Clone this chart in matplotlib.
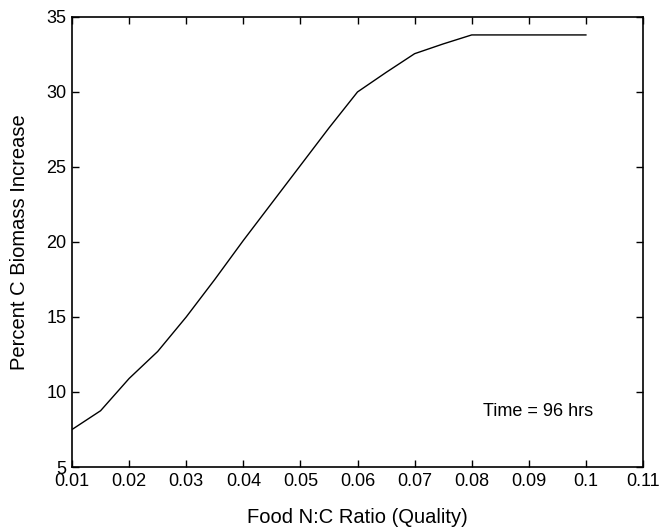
import matplotlib
matplotlib.use("Agg")
import matplotlib.pyplot as plt

nc_ratio = [0.01, 0.015, 0.02, 0.025, 0.03, 0.035, 0.04, 0.045, 0.05, 0.055,
            0.06, 0.065, 0.07, 0.075, 0.08, 0.09, 0.1]
biomass_increase = [7.5, 8.75, 10.9, 12.7, 15.0, 17.5, 20.1, 22.6, 25.1, 27.6,
                    30.0, 31.3, 32.55, 33.2, 33.8, 33.8, 33.8]
xticks = [0.01, 0.02, 0.03, 0.04, 0.05, 0.06, 0.07, 0.08, 0.09, 0.1, 0.11]
xtick_labels = ["0.01", "0.02", "0.03", "0.04", "0.05", "0.06", "0.07", "0.08", "0.09", "0.1", "0.11"]
yticks = [5, 10, 15, 20, 25, 30, 35]

plt.rcParams['font.family'] = ['Liberation Sans', 'DejaVu Sans']
fig = plt.figure(figsize=(6.62, 5.29), dpi=100)
ax = fig.add_axes([0.1088, 0.1172, 0.8625, 0.8508])
ax.plot(nc_ratio, biomass_increase, color='black', linewidth=1.0)
ax.set_xlim(0.01, 0.11)
ax.set_ylim(5, 35)
ax.set_xticks(xticks)
ax.set_xticklabels(xtick_labels)
ax.set_yticks(yticks)
ax.tick_params(direction='in', top=True, right=True, length=5, width=1,
               labelsize=13)
ax.tick_params(axis='x', pad=4)
ax.tick_params(axis='y', pad=4)
for s in ax.spines.values():
    s.set_linewidth(1.2)
ax.set_xlabel("Food N:C Ratio (Quality)", fontsize=14.5)
ax.set_ylabel("Percent C Biomass Increase", fontsize=14.5)
ax.xaxis.set_label_coords(0.5, -0.09)
ax.yaxis.set_label_coords(-0.075, 0.5)
ax.text(0.0819, 8.7, "Time = 96 hrs", fontsize=13, va='center', ha='left')
fig.savefig("out.png", dpi=100)
